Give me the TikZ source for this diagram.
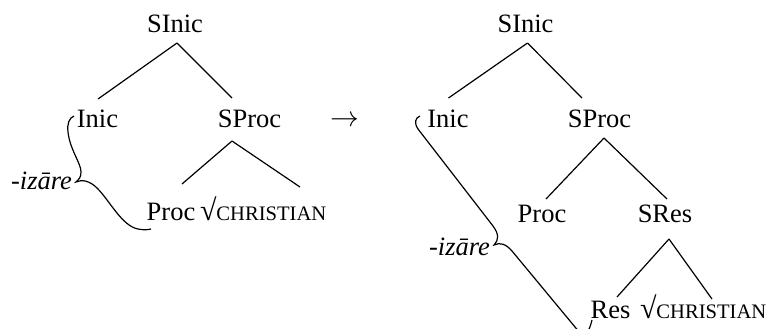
\documentclass[tikz,border=0pt]{standalone}
\usepackage{fontspec}
\setmainfont{Liberation Serif}
\newcommand{\mysc}[1]{{\fontsize{10.3}{12}\selectfont #1}}
\newcommand{\myroot}{{\fontsize{15}{16}\selectfont √}}
\tikzset{
  lbl/.style={inner sep=0pt, outer sep=0pt, font=\fontsize{13.25}{16}\selectfont},
  edge/.style={line width=0.6pt},
  brc/.style={line width=0.6pt}
}
\begin{document}
\begin{tikzpicture}[x=0.5pt,y=-0.5pt]
\useasboundingbox (0,0) rectangle (768,328);
\clip (0,0) rectangle (768,328);
% ---- left tree ----
\node[lbl,anchor=base] (lSInic) at (175,32) {SInic};
\node[lbl,anchor=base] (lInic) at (97.5,127) {Inic};
\node[lbl,anchor=base] (lSProc) at (249.5,127) {SProc};
\node[lbl,anchor=base] (lProc) at (171,220) {Proc};
\node[lbl,anchor=base west] (lRoot) at (200,220) {\myroot\mysc{CHRISTIAN}};
\node[lbl,anchor=base east] (lIz) at (72,189) {\itshape -izāre};
\draw[edge] ([shift={(2,11)}]lSInic.base) -- ([shift={(0.5,-28)}]lInic.base);
\draw[edge] ([shift={(2,11)}]lSInic.base) -- ([shift={(-17.5,-29)}]lSProc.base);
\draw[edge] ([shift={(-17.5,14)}]lSProc.base) -- ([shift={(11,-36)}]lProc.base);
\draw[edge] ([shift={(-17.5,14)}]lSProc.base) -- ([shift={(100,-33)}]lRoot.base west);
% left brace
\draw[brc] (74,116) .. controls (69,118) and (67,124) .. (68,132)
  .. controls (70,150) and (81,163) .. (81,172)
  .. controls (81,177) and (79,180) .. (76,182)
  .. controls (82,179) and (90,181) .. (97,188)
  .. controls (110,201) and (122,226) .. (138,229)
  .. controls (143,230) and (147,230) .. (151,229);
% arrow
\node[lbl,anchor=base] (arr) at (345,126) {$\rightarrow$};
% ---- right tree ----
\node[lbl,anchor=base] (rSInic) at (525.5,32) {SInic};
\node[lbl,anchor=base] (rInic) at (448,127) {Inic};
\node[lbl,anchor=base] (rSProc) at (599.5,127) {SProc};
\node[lbl,anchor=base] (rProc) at (542,222) {Proc};
\node[lbl,anchor=base] (rSRes) at (665,222) {SRes};
\node[lbl,anchor=base] (rRes) at (610.5,318) {Res};
\node[lbl,anchor=base west] (rRoot) at (640,318) {\myroot\mysc{CHRISTIAN}};
\node[lbl,anchor=base east] (rIz) at (490,255) {\itshape -izāre};
\draw[edge] ([shift={(2,11)}]rSInic.base) -- ([shift={(0.5,-29)}]rInic.base);
\draw[edge] ([shift={(2,11)}]rSInic.base) -- ([shift={(-17.5,-29)}]rSProc.base);
\draw[edge] ([shift={(4.5,11)}]rSProc.base) -- ([shift={(4,-23)}]rProc.base);
\draw[edge] ([shift={(4.5,11)}]rSProc.base) -- ([shift={(2,-23)}]rSRes.base);
\draw[edge] ([shift={(4,17)}]rSRes.base) -- ([shift={(6.5,-21)}]rRes.base);
\draw[edge] ([shift={(4,17)}]rSRes.base) -- ([shift={(72,-19)}]rRoot.base west);
% right brace
\draw[brc] (420,116) .. controls (415,118) and (414,123) .. (418,129)
  -- (493,226)
  .. controls (499,234) and (499,240) .. (494,245)
  .. controls (500,242) and (506,244) .. (512,251)
  -- (580,333)
  .. controls (584,338) and (589,333) .. (592,320);
\end{tikzpicture}
\end{document}
